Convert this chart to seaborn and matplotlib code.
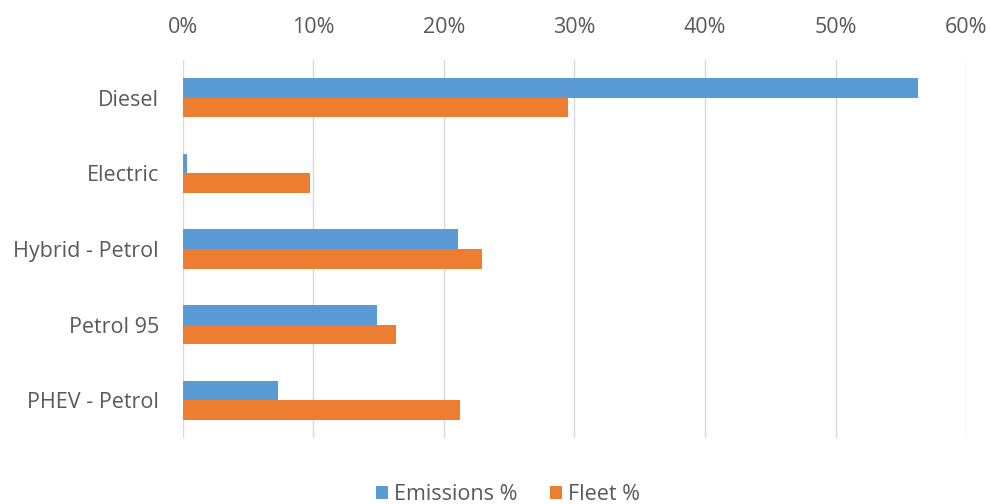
import pandas as pd
import seaborn as sns
import matplotlib.pyplot as plt
from matplotlib.ticker import PercentFormatter

# Dados (em %)
categorias = ["Diesel", "Electric", "Hybrid - Petrol", "Petrol 95", "PHEV - Petrol"]
emissoes = [56.3, 0.35, 21.1, 14.85, 7.3]
frota = [29.5, 9.75, 22.9, 16.3, 21.25]
series = ["Emissions %", "Fleet %"]
cores = ["#5B9BD5", "#ED7D31"]

df = pd.DataFrame({
    "categoria": categorias * 2,
    "valor": emissoes + frota,
    "serie": [series[0]] * len(categorias) + [series[1]] * len(categorias),
})

sns.set_style("white")
plt.rcParams["font.family"] = ["Open Sans", "DejaVu Sans"]

fig = plt.figure(figsize=(9.9, 5.04), dpi=100)
ax = fig.add_axes([0.1845, 0.131, 0.7915, 0.750])

sns.barplot(data=df, y="categoria", x="valor", hue="serie", orient="h",
            palette=cores, width=0.52, saturation=1, linewidth=0, ax=ax, legend=True)

ax.set_xlim(0, 60)
ax.set_ylim(4.5, -0.5)
ax.set_xticks(range(0, 61, 10))
ax.xaxis.set_major_formatter(PercentFormatter(decimals=0))
ax.xaxis.tick_top()
ax.grid(axis="x", color="#D9D9D9", linewidth=1)
ax.set_axisbelow(True)
for s in ax.spines.values():
    s.set_visible(False)
ax.tick_params(length=0, labelsize=15.5, colors="#595959")
ax.tick_params(axis="y", pad=17)
ax.tick_params(axis="x", pad=16)
ax.set_xlabel("")
ax.set_ylabel("")

# Legenda centrada sob a área do gráfico
handles, labels = ax.get_legend_handles_labels()
ax.get_legend().remove()
fig.legend(handles, labels, loc="lower center", bbox_to_anchor=(0.513, -0.04),
           ncol=2, frameon=False, fontsize=15.5, labelcolor="#595959",
           handlelength=0.55, handleheight=0.55, handletextpad=0.3, columnspacing=1.5)

fig.savefig("out.png", dpi=100)
